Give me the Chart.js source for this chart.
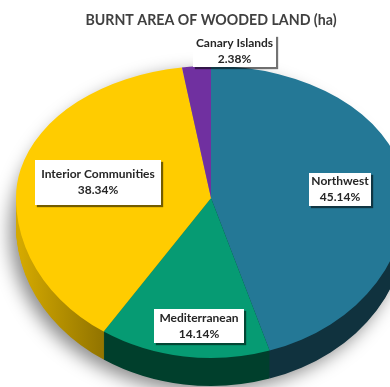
<!DOCTYPE html>
<html>
<head>
<meta charset="utf-8">
<title>Burnt area of wooded land</title>
<script src="https://cdn.jsdelivr.net/npm/chart.js@4"></script>
<style>
    html, body { margin: 0; padding: 0; background: #fff; overflow: hidden; }
    #wrap { position: absolute; left: 0; top: 0; width: 390px; height: 387px; overflow: hidden; }
    #pie { filter: blur(0.35px); }
</style>
</head>
<body>
<div id="wrap"><canvas id="pie" width="422" height="387" style="width:422px;height:387px"></canvas></div>
<script>
const categories = ['Northwest', 'Mediterranean', 'Interior Communities', 'Canary Islands'];
const shares = [45.14, 14.14, 38.34, 2.38];

const topColors = ['#247896', '#069b73', '#ffcc00', '#7030a0'];
const sideColors = [
    ['#12394a', '#10323e'],
    ['#005a3f', '#003f2c'],
    ['#d4a900', '#947600'],
    ['#4a2070', '#4a2070']
];
// left, top, width, height of each label box
const labelBoxes = [
    [309, 173, 62, 33],
    [154, 309, 90, 34],
    [35, 160, 126, 45],
    [193, 35, 83, 32]
];

const centerX = 211;
const centerY = 198;
const radiusPx = 195;
const upperSquash = 132 / 195;
const lowerSquash = 160 / 195;
const depth = 28;

// half ellipse pass: the pie is seen in perspective, so the near half is taller
function drawHalf(ctx, arcs, clipY, clipH, squash, offset, paint) {
    ctx.save();
    ctx.beginPath();
    ctx.rect(0, clipY, 422, clipH);
    ctx.clip();
    ctx.translate(centerX, centerY + offset);
    ctx.scale(1, squash);
    ctx.translate(-arcs[0].x, -arcs[0].y);
    arcs.forEach((arc, i) => paint(arc, i));
    ctx.restore();
}

const tiltedPie = {
    id: 'tiltedPie',
    beforeDatasetsDraw(chart) {
        const ctx = chart.ctx;
        // soft shadow under the whole disc
        ctx.save();
        ctx.filter = 'blur(9px)';
        ctx.fillStyle = 'rgba(0,0,0,0.45)';
        ctx.beginPath();
        ctx.ellipse(centerX - 6, centerY + depth + 6, radiusPx, 160, 0, 0, Math.PI * 2);
        ctx.fill();
        ctx.restore();
    },
    beforeDatasetDraw(chart) {
        const ctx = chart.ctx;
        const arcs = chart.getDatasetMeta(0).data;

        // side wall
        const walls = sideColors.map(pair => {
            const g = ctx.createLinearGradient(20, 0, 100, 0);
            g.addColorStop(0, pair[0]);
            g.addColorStop(1, pair[1]);
            return g;
        });
        for (let d = depth; d > 0; d--) {
            drawHalf(ctx, arcs, centerY + d, 400, lowerSquash, d, (arc, i) => {
                const base = arc.options;
                arc.options = Object.assign(Object.create(base), { backgroundColor: walls[i] });
                arc.draw(ctx);
                arc.options = base;
            });
        }

        // top face
        drawHalf(ctx, arcs, 0, centerY, upperSquash, 0, arc => arc.draw(ctx));
        drawHalf(ctx, arcs, centerY, 400, lowerSquash, 0, arc => arc.draw(ctx));
        return false;
    },
    afterDatasetsDraw(chart) {
        const ctx = chart.ctx;
        labelBoxes.forEach((box, i) => {
            const [x, y, w, h] = box;
            ctx.save();
            ctx.shadowColor = 'rgba(0,0,0,0.55)';
            ctx.shadowBlur = 1;
            ctx.shadowOffsetX = 2;
            ctx.shadowOffsetY = 2;
            ctx.fillStyle = '#fff';
            ctx.fillRect(x, y, w, h);
            ctx.restore();

            ctx.fillStyle = '#262626';
            ctx.font = 'bold 12px Lato';
            ctx.textAlign = 'center';
            ctx.textBaseline = 'middle';
            ctx.fillText(categories[i], x + w / 2, y + h / 2 - 8);
            ctx.fillText(shares[i].toFixed(2) + '%', x + w / 2, y + h / 2 + 8);
        });
    }
};

new Chart(document.getElementById('pie'), {
    type: 'pie',
    data: {
        labels: categories,
        datasets: [{
            data: shares,
            backgroundColor: topColors,
            borderWidth: 0
        }]
    },
    options: {
        responsive: false,
        animation: false,
        radius: radiusPx,
        plugins: {
            legend: { display: false },
            tooltip: { enabled: false },
            title: {
                display: true,
                text: 'BURNT AREA OF WOODED LAND (ha)',
                color: '#404040',
                font: { family: 'Lato', size: 14.2, weight: 'bold' },
                padding: { top: 12, bottom: 0 }
            }
        }
    },
    plugins: [tiltedPie]
});
</script>
</body>
</html>
